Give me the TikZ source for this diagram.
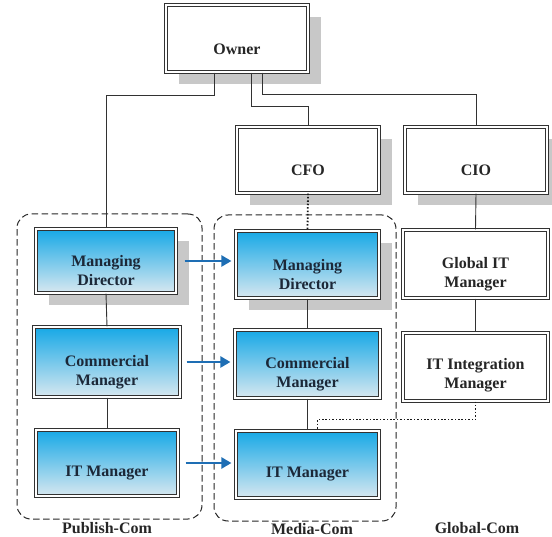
\documentclass[tikz,border=0pt]{standalone}
\usepackage{fontspec}
\setmainfont{Liberation Serif}
\usetikzlibrary{shadows,arrows.meta}
\definecolor{boxtop}{RGB}{22,168,230}
\definecolor{boxbot}{RGB}{216,232,240}
\definecolor{edgegray}{RGB}{50,50,50}
\definecolor{shadegray}{RGB}{200,200,200}
\definecolor{arrowblue}{RGB}{30,110,180}
\definecolor{navytext}{RGB}{28,40,56}
\begin{document}
\begin{tikzpicture}[x=1pt,y=-1pt,
 base/.style={draw=edgegray, line width=1.1pt, double=white, double distance=1.8pt, inner sep=0pt},
 whitebox/.style={base, fill=white},
 bluebox/.style={base, top color=boxtop, bottom color=boxbot},
 shad/.style={drop shadow={shadow xshift=13pt, shadow yshift=-12pt, fill=shadegray, opacity=1}},
 txt/.style={font=\bfseries\fontsize{16}{19}\selectfont, align=center, text=black!85},
 btxt/.style={txt, text=navytext},
 conn/.style={draw=edgegray, line width=0.9pt},
 dots/.style={draw=black!90, line width=1.8pt, dash pattern=on 1.5pt off 1.9pt},
 group/.style={draw=black!85, dash pattern=on 6.5pt off 3.5pt, line width=1pt, rounded corners=14pt, inner sep=0pt},
 xfer/.style={draw=arrowblue, line width=2.2pt, -{Triangle[length=10pt,width=11pt]}},
]
\useasboundingbox (0,0) rectangle (552,537);

% group containers
\node[group, minimum width=185pt, minimum height=305pt] (pubgrp) at (109.5,366.5) {};
\node[group, minimum width=182pt, minimum height=306pt] (medgrp) at (305,368) {};

% boxes
\node[whitebox, shad, minimum width=142pt, minimum height=67pt] (owner) at (237,38.5) {};
\node[whitebox, shad, minimum width=142pt, minimum height=66pt] (cfo) at (308,160) {};
\node[whitebox, shad, minimum width=142pt, minimum height=66pt] (cio) at (476,160) {};

\node[bluebox, shad, minimum width=140pt, minimum height=64pt] (pmd) at (106,261) {};
\node[bluebox, minimum width=146pt, minimum height=70pt] (pcm) at (107,362) {};
\node[bluebox, minimum width=142pt, minimum height=66pt] (pit) at (107,463) {};

\node[bluebox, shad, minimum width=143pt, minimum height=67pt] (mmd) at (307.5,264.5) {};
\node[bluebox, minimum width=145pt, minimum height=68pt] (mcm) at (307.5,364) {};
\node[bluebox, minimum width=143pt, minimum height=67pt] (mit) at (307.5,464.5) {};

\node[whitebox, minimum width=145pt, minimum height=68pt] (git) at (475.5,264) {};
\node[whitebox, minimum width=145pt, minimum height=68pt] (gii) at (475.5,367) {};

% texts
\node[txt] (ownert) at ([yshift=-11pt]owner.center) {Owner};
\node[txt] (cfot) at ([yshift=-10pt]cfo.center) {CFO};
\node[txt] (ciot) at ([yshift=-10pt]cio.center) {CIO};
\node[btxt] (pmdt) at ([yshift=-10pt]pmd.center) {Managing\\Director};
\node[btxt] (pcmt) at ([yshift=-10pt]pcm.center) {Commercial\\Manager};
\node[btxt] (pitt) at ([yshift=-10pt]pit.center) {IT Manager};
\node[btxt] (mmdt) at ([yshift=-10pt]mmd.center) {Managing\\Director};
\node[btxt] (mcmt) at ([yshift=-10pt]mcm.center) {Commercial\\Manager};
\node[btxt] (mitt) at ([yshift=-10pt]mit.center) {IT Manager};
\node[txt] (gitt) at ([yshift=-10pt]git.center) {Global IT\\Manager};
\node[txt] (giit) at ([yshift=-8pt]gii.center) {IT Integration\\Manager};

% group labels
\node[txt] (publbl) at (107,528) {Publish-Com};
\node[txt] (medlbl) at (312,529) {Media-Com};
\node[txt] (glblbl) at (477,528) {Global-Com};

% connectors
\draw[conn] ([xshift=-23pt]owner.south) -- ++(0,23) -| (pmd.north);
\draw[conn] ([xshift=14pt]owner.south) -- ++(0,34) -| (cfo.north);
\draw[conn] ([xshift=25pt]owner.south) -- ++(0,22) -| (cio.north);
\draw[conn] (pmd.south) -- (pcm.north);
\draw[conn] (pcm.south) -- (pit.north);
\draw[conn] (mmd.south) -- (mcm.north);
\draw[conn] (mcm.south) -- (mit.north);
\draw[conn] (cio.south) -- (git.north);
\draw[conn] (git.south) -- (gii.north);
\draw[dots] (cfo.south) -- (mmd.north);
\draw[dots] (gii.south) -- ++(0,18) -| ([xshift=10pt]mit.north);

% transfer arrows
\draw[xfer, shorten <=8pt, shorten >=4pt] (pmd.east) -- (pmd.east -| mmd.west);
\draw[xfer, shorten <=6pt, shorten >=4pt] (pcm.east) -- (pcm.east -| mcm.west);
\draw[xfer, shorten <=7pt, shorten >=4pt] (pit.east) -- (pit.east -| mit.west);
\end{tikzpicture}
\end{document}
